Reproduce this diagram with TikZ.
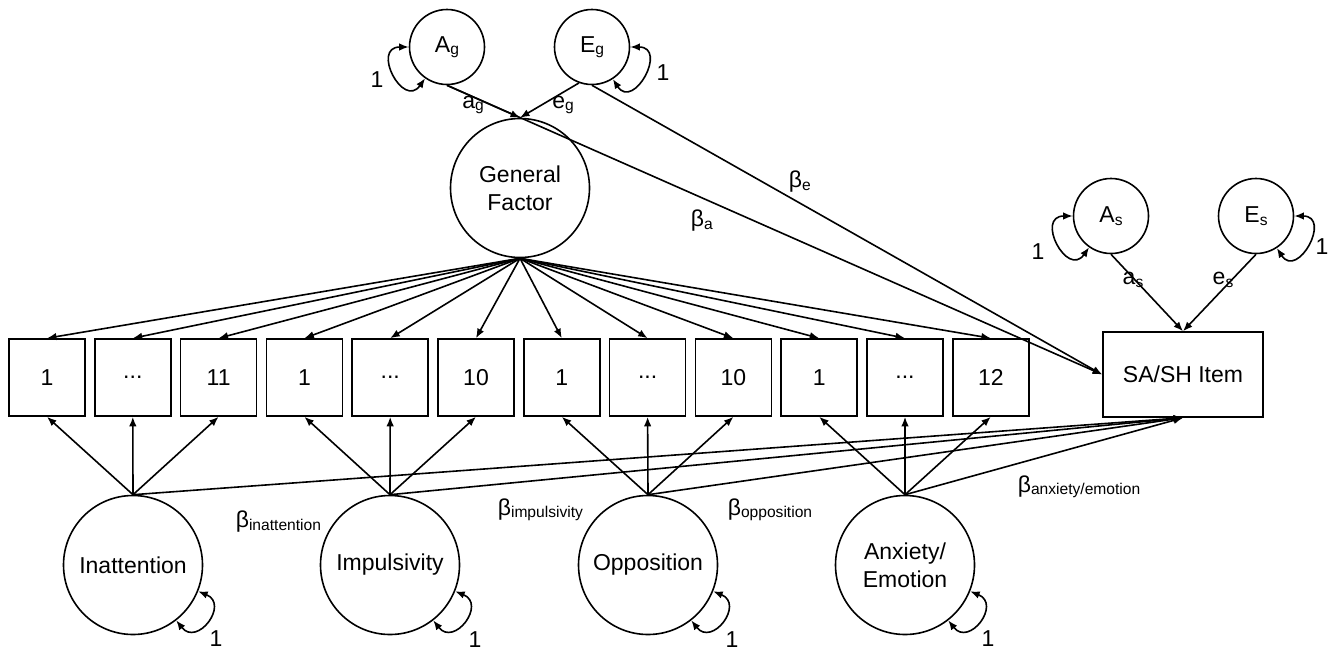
\documentclass[tikz,border=0pt]{standalone}
\usepackage{fontspec}
\setmainfont{Liberation Sans}
\usetikzlibrary{arrows.meta}
\newcommand{\sbs}[1]{\raisebox{-2.5pt}{\fontsize{15.6}{16}\selectfont #1}}
\begin{document}
\begin{tikzpicture}[x=1pt,y=1pt, line width=1.6pt,
  every node/.style={font=\fontsize{23}{28}\selectfont},
  lat/.style={draw, circle, inner sep=0pt, minimum size=75pt},
  big/.style={draw, circle, inner sep=0pt, minimum size=139pt, align=center},
  obs/.style={draw, rectangle, minimum width=76pt, minimum height=77pt, inner sep=0pt},
  arr/.style={-{Latex[length=9.5pt,width=7.5pt]}},
  dbl/.style={{Latex[length=9.5pt,width=7.5pt]}-{Latex[length=9.5pt,width=7.5pt]}},
  lbl/.style={inner sep=0pt}]
\useasboundingbox (0,0) rectangle (1337,-651);

% latent variance components
\node[lat] (Ag) at (447,-47) {A\sbs{g}};
\node[lat] (Eg) at (592,-47) {E\sbs{g}};
\node[big] (GF) at (520,-188) {General\\Factor};
\node[lat] (As) at (1111,-216) {A\sbs{s}};
\node[lat] (Es) at (1256,-216) {E\sbs{s}};
\node[obs, minimum width=160pt, minimum height=85pt] (SA) at (1183,-374.5) {SA/SH Item};

% observed items
\node[obs] (b1)  at (47,-377.5)    {1};
\node[obs] (b2)  at (132.8,-377.5) {...};
\node[obs] (b3)  at (218.6,-377.5) {11};
\node[obs] (b4)  at (304.4,-377.5) {1};
\node[obs] (b5)  at (390.2,-377.5) {...};
\node[obs] (b6)  at (476,-377.5)   {10};
\node[obs] (b7)  at (561.8,-377.5) {1};
\node[obs] (b8)  at (647.6,-377.5) {...};
\node[obs] (b9)  at (733.4,-377.5) {10};
\node[obs] (b10) at (819.2,-377.5) {1};
\node[obs] (b11) at (905,-377.5)   {...};
\node[obs] (b12) at (990.8,-377.5) {12};

% specific factors
\node[big] (In) at (133,-565) {Inattention};
\node[big] (Im) at (390,-565) {Impulsivity};
\node[big] (Op) at (648,-565) {Opposition};
\node[big] (An) at (905,-565) {Anxiety/\\Emotion};

% general factor loadings
\foreach \b in {b1,b2,b3,b4,b5,b6,b7,b8,b9,b10,b11,b12}
  \draw[arr] (GF.south) -- (\b.north);

% specific factor loadings
\foreach \f/\x/\y/\z in {In/b1/b2/b3, Im/b4/b5/b6, Op/b7/b8/b9, An/b10/b11/b12}{
  \draw[arr] (\f.north) -- (\x.south);
  \draw[arr] (\f.north) -- (\y.south);
  \draw[arr] (\f.north) -- (\z.south);
  \draw[arr] (\f.north) -- (SA.south);
}

% ACE paths
\draw[arr] (Ag.south) -- (GF.north);
\draw[arr] (Eg.250) -- (GF.north);
\draw[arr] (Ag.south) -- (SA.west);
\draw[arr] (Eg.south) -- (SA.west);
\draw[arr] (As.south) -- (SA.north);
\draw[arr] (Es.south) -- (SA.north);

% variance loops
\draw[dbl] (Ag.180) .. controls +(180:38) and +(235:38) .. (Ag.235);
\draw[dbl] (As.180) .. controls +(180:38) and +(235:38) .. (As.235);
\draw[dbl] (Eg.0) .. controls +(0:38) and +(-57:38) .. (Eg.-57);
\draw[dbl] (Es.0) .. controls +(0:38) and +(-57:38) .. (Es.-57);
\foreach \f in {In,Im,Op,An}
  \draw[dbl] (\f.-22) .. controls +(-22:34) and +(-52:34) .. (\f.-52);

% loop labels
\node[lbl] (lAg) at (377,-80) {1};
\node[lbl] (lEg) at (663,-73) {1};
\node[lbl] (lAs) at (1038,-252) {1};
\node[lbl] (lEs) at (1322,-247) {1};
\node[lbl] (lIn) at (216,-639) {1};
\node[lbl] (lIm) at (475,-640) {1};
\node[lbl] (lOp) at (732,-640) {1};
\node[lbl] (lAn) at (988,-639) {1};

% path labels
\node[lbl] (ag) at (473,-105) {a\sbs{g}};
\node[lbl] (eg) at (563,-105) {e\sbs{g}};
\node[lbl] (as) at (1133,-280) {a\sbs{s}};
\node[lbl] (es) at (1223,-280) {e\sbs{s}};
\node[lbl, anchor=west] (ba) at (690,-221) {β\sbs{a}};
\node[lbl, anchor=west] (be) at (788,-182) {β\sbs{e}};
\node[lbl, anchor=west] (bIn) at (235,-522) {β\sbs{inattention}};
\node[lbl, anchor=west] (bIm) at (497,-510) {β\sbs{impulsivity}};
\node[lbl, anchor=west] (bOp) at (727,-510) {β\sbs{opposition}};
\node[lbl, anchor=west] (bAn) at (1017,-487) {β\sbs{anxiety/emotion}};
\end{tikzpicture}
\end{document}
